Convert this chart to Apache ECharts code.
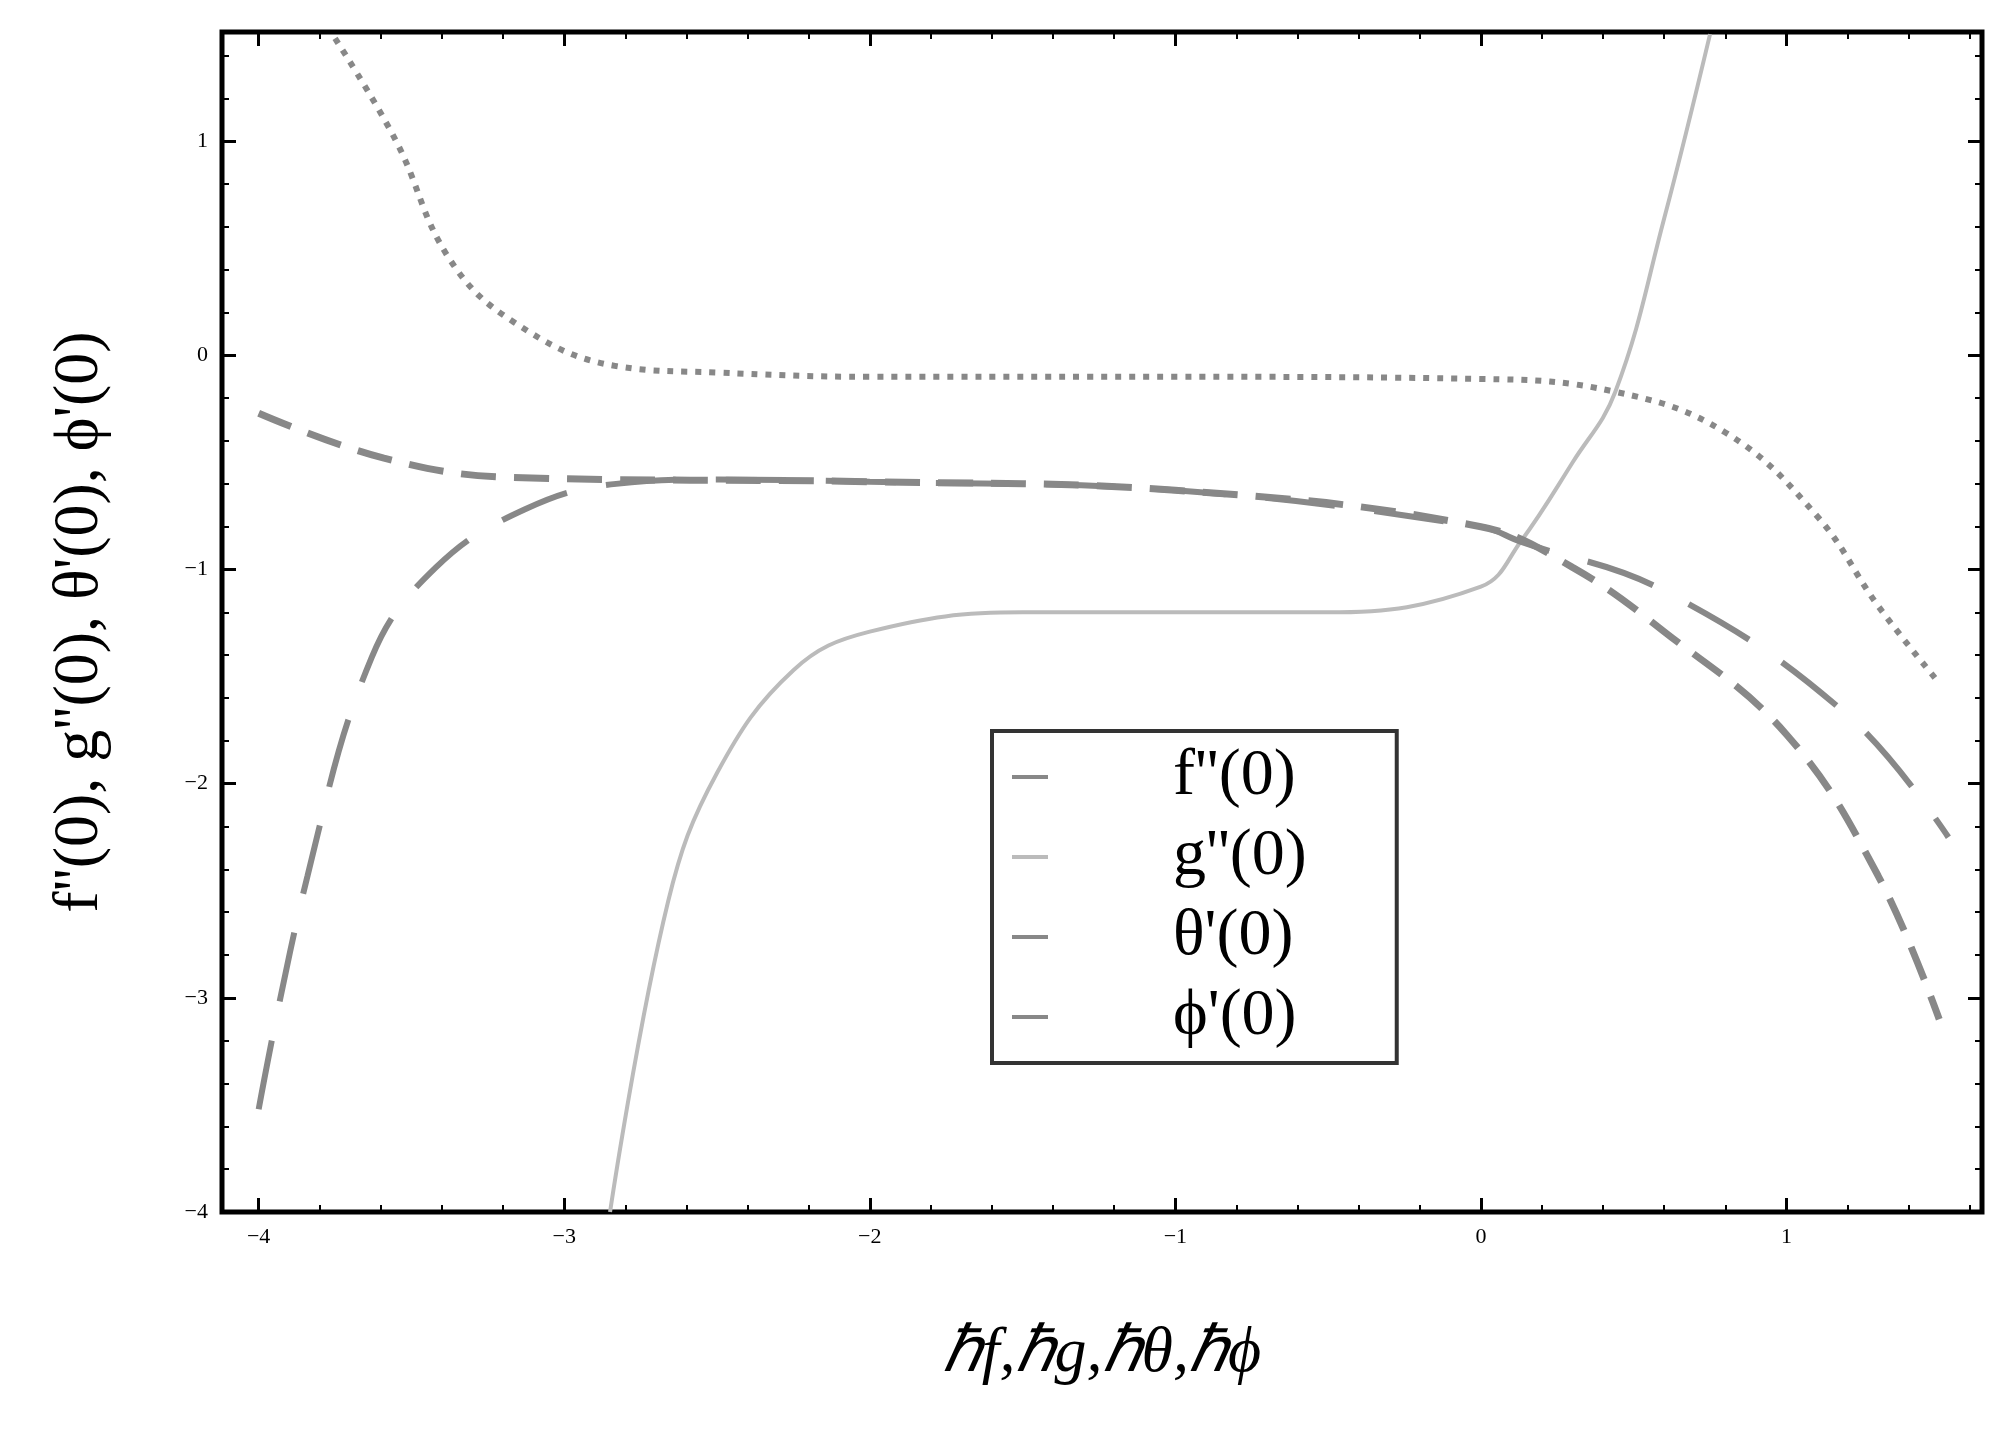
<!DOCTYPE html>
<html>
<head>
<meta charset="utf-8">
<script src="https://cdn.jsdelivr.net/npm/echarts@6/dist/echarts.min.js"></script>
<style>html,body{margin:0;padding:0;background:#fff}#c{width:2001px;height:1438px}</style>
</head>
<body>
<div id="c"></div>
<script>
// [h, value]
const fData = [[-3.75,1.48],[-3.55,1.0],[-3.38,0.46],[-3.17,0.16],[-2.83,-0.05],[-2.5,-0.08],[-2,-0.1],[-1,-0.1],[0,-0.11],[0.44,-0.17],[0.8,-0.36],[1.1,-0.75],[1.3,-1.17],[1.5,-1.53]];
const gData = [[-2.85,-4],[-2.66,-2.55],[-2.5,-1.95],[-2.25,-1.47],[-2,-1.29],[-1.5,-1.2],[-0.5,-1.2],[0,-1.08],[0.13,-0.87],[0.3,-0.5],[0.44,-0.17],[0.6,0.64],[0.75,1.5]];
const thetaData = [[-4,-3.52],[-3.84,-2.43],[-3.63,-1.41],[-3.42,-0.99],[-3.13,-0.72],[-2.83,-0.6],[-2.5,-0.58],[-2,-0.59],[-1,-0.63],[0,-0.8],[0.13,-0.87],[0.6,-1.1],[1.2,-1.68],[1.53,-2.25]];
const phiData = [[-4,-0.27],[-3.59,-0.48],[-3.17,-0.57],[-2,-0.59],[-1,-0.63],[0,-0.8],[0.3,-0.99],[0.6,-1.29],[1.0,-1.77],[1.3,-2.43],[1.5,-3.1]];
const names = ["f''(0)", "g''(0)", "θ'(0)", "ϕ'(0)"];
const xMajor = [-4, -3, -2, -1, 0, 1];
const yMajor = [-4, -3, -2, -1, 0, 1];
const xMinor = [-4.0,-3.8,-3.6,-3.4,-3.2,-2.8,-2.6,-2.4,-2.2,-1.8,-1.6,-1.4,-1.2,-0.8,-0.6,-0.4,-0.2,0.2,0.4,0.6,0.8,1.2,1.4,1.6];
const yMinor = [-3.8,-3.6,-3.4,-3.2,-2.8,-2.6,-2.4,-2.2,-1.8,-1.6,-1.4,-1.2,-0.8,-0.6,-0.4,-0.2,0.2,0.4,0.6,0.8,1.2,1.4];

const X_MIN = -4.12, X_MAX = 1.64, Y_MIN = -4, Y_MAX = 1.51;
const chart = echarts.init(document.getElementById('c'));

function tickAxis(pos, ticks, len, labels) {
  const horiz = pos === 'top' || pos === 'bottom';
  return {
    type: 'value', position: pos,
    min: horiz ? X_MIN : Y_MIN, max: horiz ? X_MAX : Y_MAX,
    axisLine: {show: false, onZero: false},
    axisTick: {inside: true, length: len, customValues: ticks, lineStyle: {color: '#000', width: len > 8 ? 3 : 2}},
    splitLine: {show: false},
    axisLabel: labels ? {show: true, customValues: ticks, color: '#000', fontSize: 22, fontFamily: 'Liberation Serif', margin: 14,
      formatter: v => String(v).replace('-', '−')} : {show: false}
  };
}
const xAxes = [
  Object.assign(tickAxis('bottom', xMajor, 14, true), {name: 'ℏf,ℏg,ℏθ,ℏϕ', nameLocation: 'middle', nameGap: 110,
    nameTextStyle: {fontSize: 64, fontStyle: 'italic', fontFamily: 'Liberation Serif', color: '#000'}}),
  tickAxis('bottom', xMinor, 7, false),
  tickAxis('top', xMajor, 14, false),
  tickAxis('top', xMinor, 7, false)
];
const yAxes = [
  Object.assign(tickAxis('left', yMajor, 14, true), {name: "f''(0), g''(0), θ'(0), ϕ'(0)", nameLocation: 'middle', nameGap: 110,
    nameTextStyle: {fontSize: 64, fontFamily: 'Liberation Serif', color: '#000'}}),
  tickAxis('left', yMinor, 7, false),
  tickAxis('right', yMajor, 14, false),
  tickAxis('right', yMinor, 7, false)
];

const line = (i, data, color, width, type) => ({
  name: names[i], type: 'line', data, smooth: 0.4, symbol: 'none',
  itemStyle: {color}, lineStyle: {color, width, type}
});

chart.setOption({
  animation: false,
  grid: {left: 222, right: 19, top: 32, bottom: 226, show: true, borderColor: '#000', borderWidth: 5, backgroundColor: '#fff'},
  xAxis: xAxes,
  yAxis: yAxes,
  legend: {
    orient: 'vertical', left: 992, top: 731, padding: [6, 90, 6, 20],
    backgroundColor: '#fff', borderColor: '#333', borderWidth: 4, itemGap: 0,
    icon: 'rect', itemWidth: 36, itemHeight: 4,
    textStyle: {fontSize: 66, lineHeight: 80, fontFamily: 'Liberation Serif', color: '#000', padding: [0, 0, 0, 120]},
    data: names
  },
  series: [
    line(0, fData, '#888', 6, [6, 8]),
    line(1, gData, '#bbb', 4, 'solid'),
    line(2, thetaData, '#888', 6, [70, 40]),
    line(3, phiData, '#888', 7, [35, 18])
  ]
});
</script>
</body>
</html>
